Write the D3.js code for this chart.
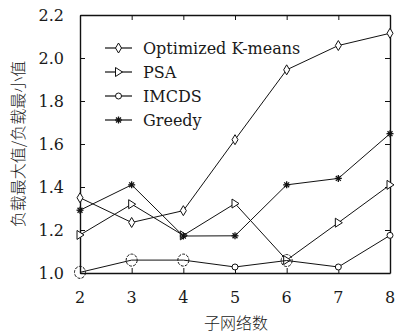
<!DOCTYPE html>
<html>
<head>
<meta charset="utf-8">
<script src="https://cdn.jsdelivr.net/npm/d3@7"></script>
<style>
  html, body { margin: 0; padding: 0; background: #fff; }
  svg { display: block; }
  text { fill: #1a1a1a; }
</style>
</head>
<body>
<svg id="chart" width="396" height="336"></svg>
<script>
// Subnet counts on the x axis
const subnets = [2, 3, 4, 5, 6, 7, 8];

// Ratio of max load to min load for each algorithm
const kmeans = [1.35, 1.235, 1.29, 1.62, 1.945, 2.058, 2.115];
const psa    = [1.177, 1.32, 1.175, 1.323, 1.06, 1.234, 1.41];
const imcds  = [1.003, 1.06, 1.06, 1.028, 1.058, 1.028, 1.175];
const greedy = [1.292, 1.41, 1.172, 1.173, 1.41, 1.44, 1.648];

const yTicks = [1.0, 1.2, 1.4, 1.6, 1.8, 2.0, 2.2];
const seriesNames = ["Optimized K-means", "PSA", "IMCDS", "Greedy"];
const xTitle = "子网络数";
const yTitle = "负载最大值/负载最小值";

const svg = d3.select("#chart");
const margin = { left: 80, right: 6, top: 15, bottom: 63 };
const W = 396, H = 336;

const SERIF = "DejaVu Serif";
const CJK = "Noto Sans CJK SC";

const x = d3.scaleLinear().domain([2, 8]).range([margin.left, W - margin.right]);
const y = d3.scaleLinear().domain([1.0, 2.2]).range([H - margin.bottom, margin.top]);

// Marker glyphs
function drawMarker(g, kind, cx, cy, big) {
  if (kind === "diamond") {
    g.append("path")
      .attr("d", `M${cx},${cy - 5}L${cx + 3},${cy}L${cx},${cy + 5}L${cx - 3},${cy}Z`)
      .attr("fill", "#fff").attr("stroke", "#111").attr("stroke-width", 1);
  } else if (kind === "triangle") {
    g.append("path")
      .attr("d", `M${cx - 3},${cy - 4.5}L${cx + 4},${cy}L${cx - 3},${cy + 4.5}Z`)
      .attr("fill", "#fff").attr("stroke", "#111").attr("stroke-width", 1);
  } else if (kind === "circle") {
    if (big) {
      g.append("ellipse").attr("cx", cx).attr("cy", cy).attr("rx", 5.5).attr("ry", 6)
        .attr("fill", "none").attr("stroke", "#111").attr("stroke-width", 1)
        .attr("stroke-dasharray", "3,1.2");
    } else {
      g.append("circle").attr("cx", cx).attr("cy", cy).attr("r", 3)
        .attr("fill", "#fff").attr("stroke", "#111").attr("stroke-width", 1);
    }
  } else if (kind === "star") {
    const r = 3.5;
    for (let k = 0; k < 4; k++) {
      const a = k * Math.PI / 4;
      g.append("line")
        .attr("x1", cx - r * Math.cos(a)).attr("y1", cy - r * Math.sin(a))
        .attr("x2", cx + r * Math.cos(a)).attr("y2", cy + r * Math.sin(a))
        .attr("stroke", "#111").attr("stroke-width", 1.3);
    }
  }
}

// Larger dashed circles drawn on these IMCDS points
const imcdsLargeAt = new Set([2, 3, 4, 6]);

const series = [
  { name: seriesNames[0], values: kmeans, marker: "diamond" },
  { name: seriesNames[1], values: psa, marker: "triangle" },
  { name: seriesNames[2], values: imcds, marker: "circle" },
  { name: seriesNames[3], values: greedy, marker: "star" }
];

// Axis frame with inward ticks on all sides
const tickLen = 5;
const axes = svg.append("g");
axes.append("g").attr("transform", `translate(0,${y(1.0)})`)
  .call(d3.axisBottom(x).tickValues(subnets).tickSizeInner(-tickLen).tickSizeOuter(0).tickFormat(""));
axes.append("g").attr("transform", `translate(0,${y(2.2)})`)
  .call(d3.axisTop(x).tickValues(subnets).tickSizeInner(-tickLen).tickSizeOuter(0).tickFormat(""));
axes.append("g").attr("transform", `translate(${x(2)},0)`)
  .call(d3.axisLeft(y).tickValues(yTicks).tickSizeInner(-tickLen).tickSizeOuter(0).tickFormat(""));
axes.append("g").attr("transform", `translate(${x(8)},0)`)
  .call(d3.axisRight(y).tickValues(yTicks).tickSizeInner(-tickLen).tickSizeOuter(0).tickFormat(""));
axes.selectAll(".domain").attr("stroke", "#111").attr("stroke-width", 1.4);
axes.selectAll(".tick line").attr("stroke", "#111").attr("stroke-width", 1);

// Tick labels
svg.append("g").selectAll("text").data(subnets).join("text")
  .attr("x", d => x(d)).attr("y", 303)
  .attr("text-anchor", "middle")
  .attr("font-family", SERIF).attr("font-size", 16)
  .text(d => d);
svg.append("g").selectAll("text").data(yTicks).join("text")
  .attr("x", 64).attr("y", d => y(d) + 5.5)
  .attr("text-anchor", "end")
  .attr("font-family", SERIF).attr("font-size", 16)
  .text(d => d.toFixed(1));

// Series lines and markers
const line = d3.line().x((d, i) => x(subnets[i])).y(d => y(d));
series.forEach(s => {
  const g = svg.append("g");
  g.append("path").datum(s.values).attr("d", line)
    .attr("fill", "none").attr("stroke", "#111").attr("stroke-width", 1);
  s.values.forEach((v, i) => {
    drawMarker(g, s.marker, x(subnets[i]), y(v), s.marker === "circle" && imcdsLargeAt.has(subnets[i]));
  });
});

// Legend
const legend = svg.append("g");
series.forEach((s, i) => {
  const ly = 48 + i * 24;
  legend.append("line").attr("x1", 105).attr("x2", 132).attr("y1", ly).attr("y2", ly)
    .attr("stroke", "#111").attr("stroke-width", 1.2);
  drawMarker(legend, s.marker, 118.5, ly, false);
  legend.append("text").attr("x", 143).attr("y", ly + 5.5)
    .attr("font-family", SERIF).attr("font-size", 16)
    .text(s.name);
});

// Axis titles
svg.append("text").attr("x", 236).attr("y", 329)
  .attr("text-anchor", "middle").attr("font-family", CJK).attr("font-size", 16)
  .attr("font-weight", 300)
  .text(xTitle);
svg.append("text")
  .attr("transform", `translate(24,${144}) rotate(-90)`)
  .attr("text-anchor", "middle").attr("font-family", CJK).attr("font-size", 16)
  .attr("font-weight", 300)
  .text(yTitle);
</script>
</body>
</html>
